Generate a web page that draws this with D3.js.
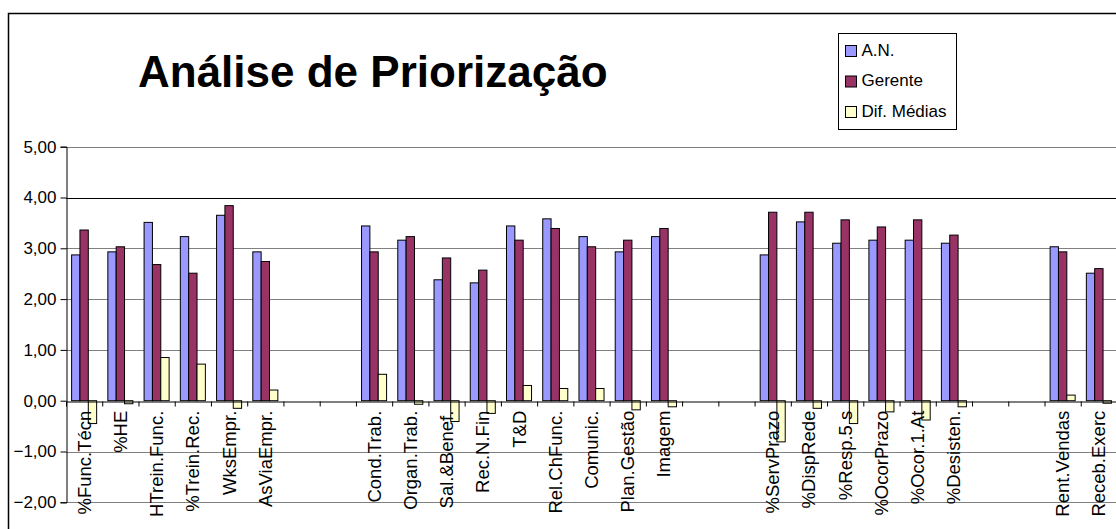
<!DOCTYPE html>
<html>
<head>
<meta charset="utf-8">
<script src="https://cdn.jsdelivr.net/npm/d3@7"></script>
<style>
  body { margin: 0; background: #fff; }
  text { font-family: Arial, "Liberation Sans", sans-serif; fill: #000; }
</style>
</head>
<body>
<svg id="chart"></svg>
<script>
// categories (empty strings are the blank gaps between groups)
var categories = ["%Func.Técn", "%HE", "HTrein.Func.", "%Trein.Rec.", "WksEmpr.", "AsViaEmpr.", "", "",
  "Cond.Trab.", "Organ.Trab.", "Sal.&Benef.", "Rec.N.Fin", "T&D", "Rel.ChFunc.", "Comunic.", "Plan.Gestão", "Imagem", "", "",
  "%ServPrazo", "%DispRede", "%Resp.5 s", "%OcorPrazo", "%Ocor.1.At", "%Desisten.", "", "",
  "Rent.Vendas", "Receb.Exerc"];

var an = [2.87, 2.93, 3.51, 3.23, 3.65, 2.93, null, null,
  3.44, 3.16, 2.38, 2.32, 3.44, 3.58, 3.23, 2.93, 3.23, null, null,
  2.87, 3.52, 3.10, 3.16, 3.16, 3.10, null, null,
  3.03, 2.51];
var gerente = [3.36, 3.03, 2.68, 2.51, 3.84, 2.74, null, null,
  2.93, 3.23, 2.81, 2.57, 3.16, 3.39, 3.03, 3.16, 3.39, null, null,
  3.71, 3.71, 3.56, 3.42, 3.56, 3.26, null, null,
  2.93, 2.60];
var difMedias = [-0.45, -0.06, 0.85, 0.72, -0.15, 0.21, null, null,
  0.52, -0.07, -0.41, -0.25, 0.30, 0.24, 0.24, -0.18, -0.12, null, null,
  -0.81, -0.15, -0.45, -0.22, -0.38, -0.12, null, null,
  0.11, -0.05];

var seriesNames = ["A.N.", "Gerente", "Dif. Médias"];
var seriesColors = ["#9999FF", "#993366", "#FFFFCC"];
var yTicks = [-2, -1, 0, 1, 2, 3, 4, 5];

var W = 1116, H = 529;
var plot = {left: 66, right: 1117, top: 146.7, bottom: 502.3};

var svg = d3.select("#chart").attr("width", W).attr("height", H);

// outer chart border
svg.append("rect")
  .attr("x", 8.5).attr("y", 13.5)
  .attr("width", W).attr("height", H)
  .attr("fill", "#fff")
  .attr("stroke", "#000")
  .attr("stroke-width", 1.5);

var y = d3.scaleLinear().domain([-2, 5]).range([plot.bottom, plot.top]);
var x0 = d3.scaleBand().domain(d3.range(categories.length)).range([plot.left, plot.right]);
var x1 = d3.scaleBand().domain(seriesNames).range([5.6, x0.bandwidth() - 5.6]);

// gridlines
svg.append("g")
  .selectAll("line")
  .data(yTicks.filter(d => d !== 0))
  .enter().append("line")
    .attr("x1", plot.left).attr("x2", plot.right)
    .attr("y1", d => Math.round(y(d)) + 0.5)
    .attr("y2", d => Math.round(y(d)) + 0.5)
    .attr("stroke", d => d === 4 ? "#000" : "#808080")
    .attr("stroke-width", 1);

// y axis
var yAxis = svg.append("g")
  .attr("transform", `translate(${plot.left + 0.5},0)`)
  .call(d3.axisLeft(y)
    .tickValues(yTicks)
    .tickSize(6)
    .tickPadding(4)
    .tickFormat(d => d3.format(".2f")(d).replace(".", ",")));
yAxis.select(".domain").attr("stroke", "#000");
yAxis.selectAll(".tick line").attr("stroke", "#000");
yAxis.selectAll("text")
  .style("font-size", "17px")
  .attr("fill", "#000");

// bars
var rows = categories.map((c, i) => ({i: i, vals: [an[i], gerente[i], difMedias[i]]}));
var groups = svg.append("g")
  .selectAll("g")
  .data(rows)
  .enter().append("g")
    .attr("transform", d => `translate(${x0(d.i)},0)`);

groups.selectAll("rect")
  .data(d => d.vals.map((v, k) => ({k: k, v: v})).filter(e => e.v !== null))
  .enter().append("rect")
    .attr("x", e => x1(seriesNames[e.k]))
    .attr("width", x1.bandwidth())
    .attr("y", e => y(Math.max(0, e.v)))
    .attr("height", e => Math.abs(y(e.v) - y(0)))
    .attr("fill", e => seriesColors[e.k])
    .attr("stroke", "#000")
    .attr("stroke-width", 1);

// category axis at zero, ticks on band boundaries
var xb = d3.scaleLinear().domain([0, categories.length]).range([plot.left, plot.right]);
var xAxis = svg.append("g")
  .attr("transform", `translate(0,${Math.round(y(0)) + 0.5})`)
  .call(d3.axisBottom(xb)
    .tickValues(d3.range(categories.length + 1))
    .tickSize(5)
    .tickSizeOuter(0)
    .tickFormat(""));
xAxis.select(".domain").attr("stroke", "#000");
xAxis.selectAll(".tick line").attr("stroke", "#000");

// category labels, rotated
svg.append("g")
  .selectAll("text")
  .data(categories)
  .enter().append("text")
    .attr("transform", (d, i) => `translate(${x0(i) + x0.bandwidth() / 2 + 6.5},${y(0) + 10}) rotate(-90)`)
    .attr("text-anchor", "end")
    .style("font-size", "18.5px")
    .text(d => d);

// title
svg.append("text")
  .attr("x", 138)
  .attr("y", 87)
  .style("font-size", "44px")
  .style("font-weight", "bold")
  .text("Análise de Priorização");

// legend
var legend = svg.append("g").attr("transform", "translate(838.5,33.5)");
legend.append("rect")
  .attr("width", 118).attr("height", 96)
  .attr("fill", "#fff")
  .attr("stroke", "#000");
var items = legend.selectAll(".item")
  .data(seriesNames)
  .enter().append("g")
    .attr("class", "item")
    .attr("transform", (d, i) => `translate(7,${17 + i * 30.5})`);
items.append("rect")
  .attr("x", 0).attr("y", -5)
  .attr("width", 11).attr("height", 11)
  .attr("fill", (d, i) => seriesColors[i])
  .attr("stroke", "#000");
items.append("text")
  .attr("x", 16).attr("y", 5)
  .style("font-size", "17px")
  .text(d => d);
</script>
</body>
</html>
